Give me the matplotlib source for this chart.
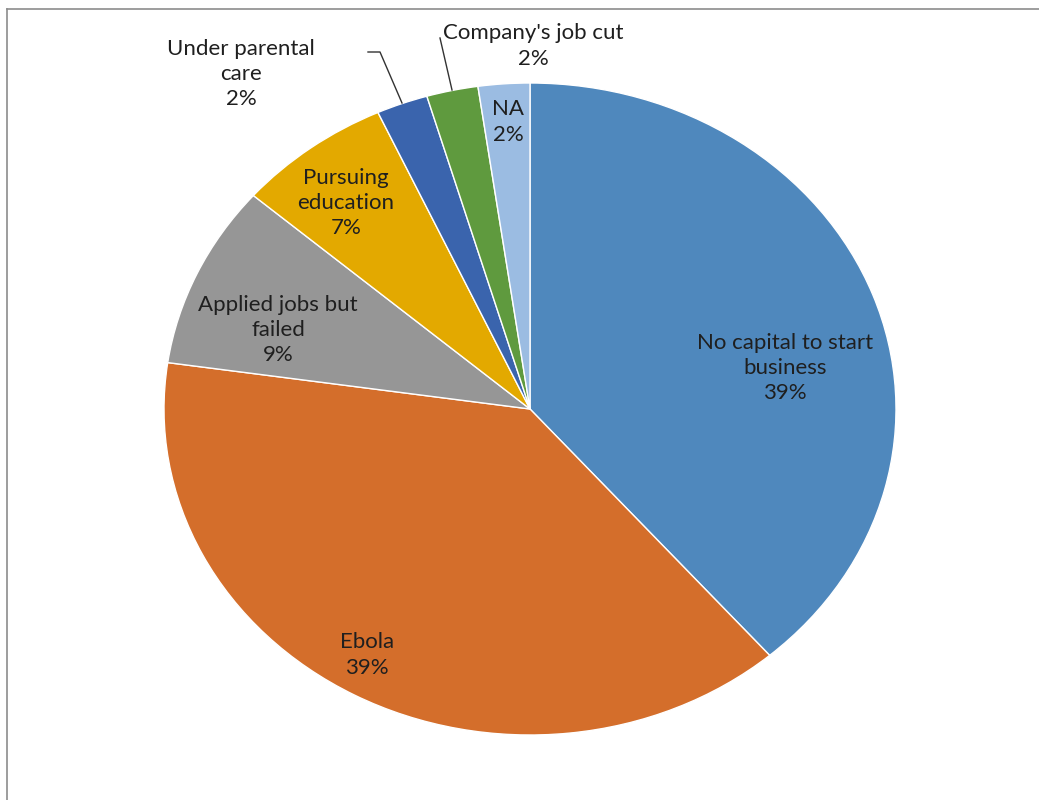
import matplotlib
matplotlib.use('Agg')
import matplotlib.pyplot as plt
from matplotlib.lines import Line2D

plt.rcParams['font.family'] = ['Lato', 'DejaVu Sans']

# data (counts, n = 44)
labels = ['No capital to start\nbusiness', 'Ebola', 'Applied jobs but\nfailed',
          'Pursuing\neducation', 'Under parental\ncare', "Company's job cut", 'NA']
counts = [17, 17, 4, 3, 1, 1, 1]
colors = ['#4F88BD', '#D46E2B', '#969696', '#E3A900', '#3A64AD', '#5F9A3E', '#9BBCE2']

W, H = 1039, 800
cx, cy, rx, ry = 530, 409, 366, 326

fig = plt.figure(figsize=(W / 100, H / 100), dpi=100)
ax = fig.add_axes([(cx - rx) / W, (H - cy - ry) / H, 2 * rx / W, 2 * ry / H])

ax.pie(counts, colors=colors, startangle=90, counterclock=False,
       wedgeprops=dict(edgecolor='white', linewidth=1))
ax.set_aspect('auto')
ax.set_xlim(-1, 1)
ax.set_ylim(-1, 1)


def px(x, y):
    # pixel position -> data coords of the pie axes
    return (x - cx) / rx, (cy - y) / ry


# label positions in pixels (centre of text block)
label_pos = [(785, 368), (367, 655), (278, 330), (346, 203), (241, 74), (533, 46), (508, 122)]
total = sum(counts)
for lab, c, (x, y) in zip(labels, counts, label_pos):
    pct = round(100 * c / total)
    tx, ty = px(x, y)
    ax.text(tx, ty, f'{lab}\n{pct}%', ha='center', va='center', fontsize=16,
            color='#1f1f1f', linespacing=1.33)

# leader lines
for pts in ([(368, 52), (380, 52), (402, 103)], [(440, 38), (452, 90)]):
    xs, ys = zip(*[px(x, y) for x, y in pts])
    ax.plot(xs, ys, color='#333333', lw=1, clip_on=False)

# chart border
fig.add_artist(Line2D([7 / W, 1], [1 - 9 / H, 1 - 9 / H], color='#8c8c8c', lw=1.2))
fig.add_artist(Line2D([7 / W, 7 / W], [0, 1 - 9 / H], color='#8c8c8c', lw=1.2))

fig.savefig('out.png', dpi=100, facecolor='white')
